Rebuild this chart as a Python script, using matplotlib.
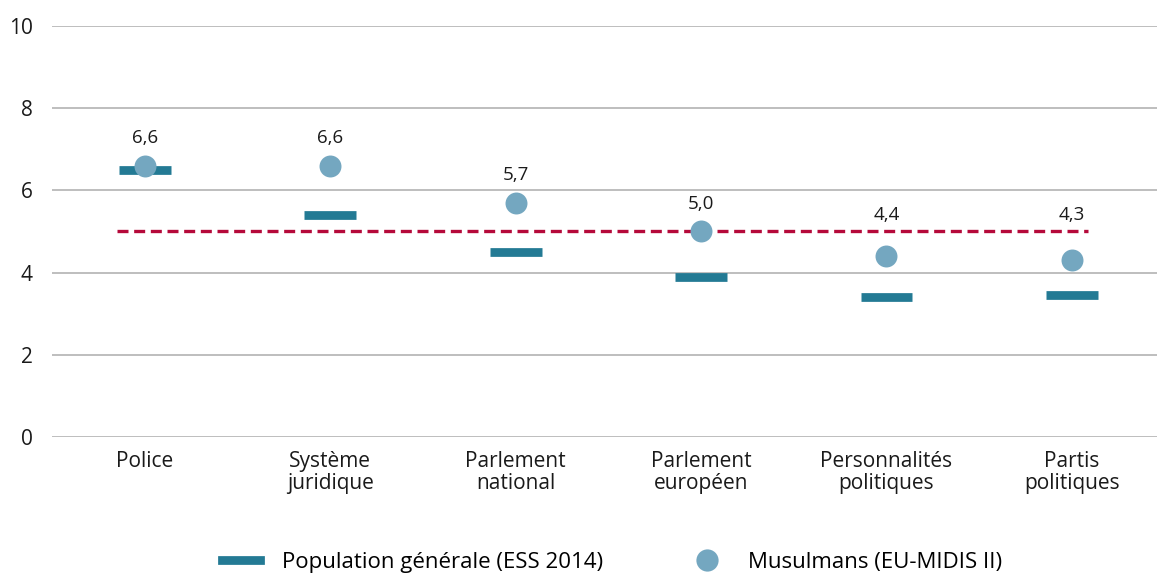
import matplotlib
matplotlib.use('Agg')
import matplotlib.pyplot as plt
from matplotlib.lines import Line2D
import numpy as np

# data
categories = ['Police', 'Système\njuridique', 'Parlement\nnational', 'Parlement\neuropéen',
              'Personnalités\npolitiques', 'Partis\npolitiques']
population = [6.5, 5.4, 4.5, 3.9, 3.4, 3.45]
musulmans = [6.6, 6.6, 5.7, 5.0, 4.4, 4.3]
musulmans_labels = ['6,6', '6,6', '5,7', '5,0', '4,4', '4,3']
moyenne = 5.0

plt.rcParams['font.family'] = ['Open Sans', 'DejaVu Sans']

bar_col = '#237a94'
dot_col = '#74a7c0'
red_col = '#b5093a'

fig = plt.figure(figsize=(11.57, 5.74), dpi=100)
ax = fig.add_axes([0.0452, 0.2387, 0.9613, 0.716])

x = np.arange(len(categories))

# horizontal grid
for v in range(0, 11, 2):
    ax.axhline(v, color='#b3b3b3', lw=1.2, zorder=0)

# reference line
ax.plot([-0.15, 5.085], [moyenne, moyenne], color=red_col, lw=2.4,
        ls=(0, (3.3, 1.7)), zorder=1)

# population bars (short horizontal marks)
ax.hlines(population, x - 0.14, x + 0.14, color=bar_col, lw=6.3, zorder=2)

# musulmans dots
ax.scatter(x, musulmans, s=250, color=dot_col, zorder=3, linewidths=0)
for xi, v, lab in zip(x, musulmans, musulmans_labels):
    ax.text(xi, max(v + 0.68, 5.4), lab, ha='center', va='center',
            fontsize=13.5, color='#1a1a1a')

ax.set_xlim(-0.5, 5.5)
ax.set_ylim(0, 10)
ax.set_yticks(range(0, 11, 2))
ax.set_xticks(x)
ax.set_xticklabels(categories, fontsize=15, color='#1a1a1a', linespacing=1.05)
ax.tick_params(axis='y', labelsize=15, length=0, pad=14, colors='#1a1a1a')
ax.tick_params(axis='x', length=0, pad=10)
for s in ax.spines.values():
    s.set_visible(False)

handles = [Line2D([0], [0], color=bar_col, lw=6.3),
           Line2D([0], [0], marker='o', color='none', markerfacecolor=dot_col,
                  markeredgewidth=0, markersize=16)]
fig.legend(handles, ['Population générale (ESS 2014)', 'Musulmans (EU-MIDIS II)'],
           loc='center', bbox_to_anchor=(0.529, 0.02), ncol=2, frameon=False,
           fontsize=16, handlelength=1.7, handletextpad=1.0, columnspacing=3.8)

fig.savefig('out.png', dpi=100)
